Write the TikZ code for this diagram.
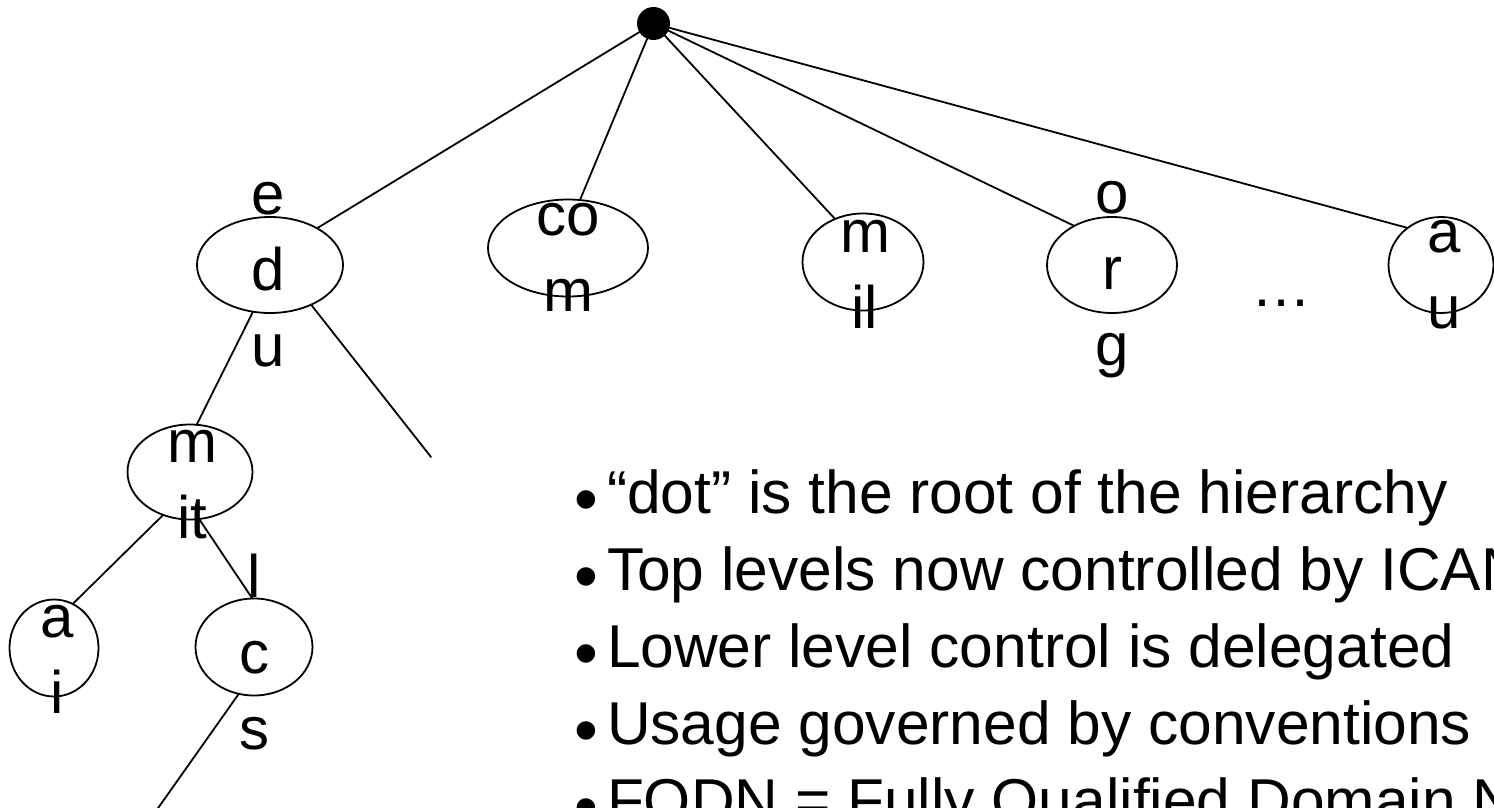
\documentclass[tikz,border=0pt]{standalone}
\usepackage{fontspec}
\setmainfont{Liberation Sans}
\usetikzlibrary{shapes.geometric}
\newcommand{\blt}{{\fontsize{68}{77}\selectfont\raisebox{-9pt}{•}}}
\begin{document}
\begin{tikzpicture}[x=1pt,y=-1pt,
  ellnode/.style={draw, ellipse, inner sep=0pt, outer sep=0pt, line width=1.8pt},
  rootdot/.style={circle, fill=black, inner sep=0pt, minimum size=33pt},
  lbl/.style={inner sep=0pt, anchor=base, font=\fontsize{60}{76}\selectfont},
  conn/.style={line width=1.8pt, line cap=round},
  bullets/.style={inner sep=0pt, anchor=base west, font=\fontsize{60.5}{77}\selectfont}]
\useasboundingbox (0,0) rectangle (1494,808);
\clip (0,0) rectangle (1494,808);

% ellipses
\node[ellnode, minimum width=146pt, minimum height=96pt] (edu) at (270,265) {};
\node[ellnode, minimum width=160pt, minimum height=97pt] (com) at (568,248) {};
\node[ellnode, minimum width=121pt, minimum height=97pt] (mil) at (863,262) {};
\node[ellnode, minimum width=130pt, minimum height=96pt] (org) at (1112,265) {};
\node[ellnode, minimum width=105pt, minimum height=96pt] (au) at (1441,265) {};
\node[ellnode, minimum width=125pt, minimum height=95pt] (mit) at (190,472) {};
\node[ellnode, minimum width=89pt, minimum height=97pt] (ai) at (54,648) {};
\node[ellnode, minimum width=117pt, minimum height=97pt] (cs) at (254,647) {};

\node[rootdot] (root) at (653.5,23.5) {};

\coordinate (eduend) at (431,457);
\coordinate (csend) at (156,811);

% connectors
\draw[conn] (root) -- (edu.38);
\draw[conn] (root) -- (com.76);
\draw[conn] (root) -- (mil.123);
\draw[conn] (root) -- (org.134);
\draw[conn] (root) -- (au.132);
\draw[conn] (edu.250) -- (mit.82);
\draw[conn] (edu.-44) -- (eduend);
\draw[conn] (mit.238) -- (ai.67);
\draw[conn] (mit.281) -- (cs.92);
\draw[conn] (cs.252) -- (csend);

% labels
\node[lbl] (edut) at (268,214) {\begin{tabular}[t]{@{}c@{}}e\\d\\u\end{tabular}};
\node[lbl] (comt) at (568,235) {\begin{tabular}[t]{@{}c@{}}co\\m\end{tabular}};
\node[lbl] (milt) at (865,252) {\begin{tabular}[t]{@{}c@{}}m\\il\end{tabular}};
\node[lbl] (orgt) at (1112,213) {\begin{tabular}[t]{@{}c@{}}o\\r\\g\end{tabular}};
\node[lbl] (aut) at (1444,252) {\begin{tabular}[t]{@{}c@{}}a\\u\end{tabular}};
\node[lbl] (mitt) at (192,462) {\begin{tabular}[t]{@{}c@{}}m\\it\end{tabular}};
\node[lbl] (ait) at (57,637) {\begin{tabular}[t]{@{}c@{}}a\\i\end{tabular}};
\node[lbl] (cst) at (254,597) {\begin{tabular}[t]{@{}c@{}}l\\c\\s\end{tabular}};
\node[lbl] (dots) at (1281,306) {…};

% bullet text
\node[bullets] (list) at (574,513) {\begin{tabular}[t]{@{}l@{\hspace{9pt}}l@{}}
\blt & “dot” is the root of the hierarchy\\
\blt & Top levels now controlled by ICANN\\
\blt & Lower level control is delegated\\
\blt & Usage governed by conventions\\
\blt & FQDN = Fully Qualified Domain Name
\end{tabular}};
\end{tikzpicture}
\end{document}
